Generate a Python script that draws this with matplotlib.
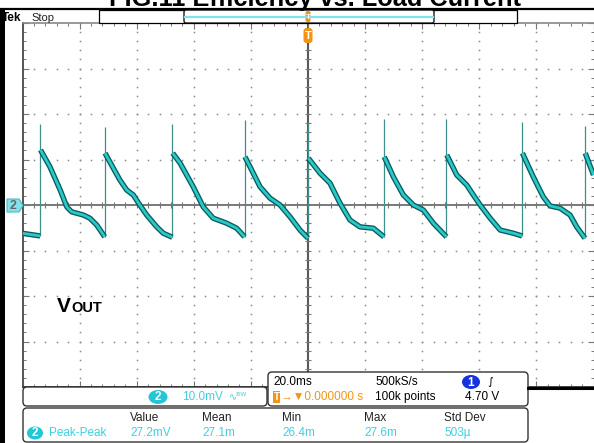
import numpy as np
import matplotlib
matplotlib.use("Agg")
import matplotlib.pyplot as plt
import matplotlib.patheffects as pe
from matplotlib.patches import FancyBboxPatch, Rectangle, Ellipse, Polygon
from matplotlib.ticker import MultipleLocator

# -----------------------
# 1. Scope trace (time in ms, voltage in mV, ch2 AC coupled)
# -----------------------
seg_t = [
    [-100.2, -97.0, -93.8],
    [-93.7, -90.4, -86.8, -84.5, -82.8, -78.7, -76.4, -74.0, -71.2],
    [-71.1, -68.2, -65.9, -63.5, -61.2, -58.9, -56.5, -53.0, -50.7, -47.5],
    [-47.4, -44.8, -40.2, -36.7, -33.2, -28.5, -25.0, -22.2],
    [-22.1, -20.3, -16.8, -13.3, -9.8, -6.3, -2.8, 0.0],
    [0.1, 4.2, 7.7, 11.2, 14.7, 18.2, 22.9, 26.6],
    [26.7, 29.9, 33.4, 36.9, 40.4, 43.9, 48.5],
    [48.6, 52.1, 55.6, 57.9, 60.3, 63.8, 67.3, 71.9, 75.0],
    [75.1, 78.9, 82.4, 84.8, 88.3, 91.8, 94.1, 97.0],
    [97.1, 100.0],
]
seg_v = [
    [-6.2, -6.5, -6.8],
    [12.1, 8.4, 3.3, -0.4, -1.5, -2.2, -2.9, -4.4, -7.0],
    [11.4, 8.1, 5.5, 3.3, 2.2, 0.0, -2.2, -4.8, -6.2, -7.1],
    [11.4, 9.2, 4.0, -0.4, -2.9, -4.0, -5.1, -7.0],
    [10.6, 8.4, 4.0, 1.5, 0.0, -2.6, -5.5, -7.3],
    [10.3, 7.0, 4.8, 0.4, -3.3, -4.8, -5.1, -7.0],
    [10.6, 6.2, 2.2, 0.0, -1.1, -4.0, -7.0],
    [11.0, 6.6, 4.4, 2.2, 0.0, -2.9, -5.5, -6.2, -6.8],
    [11.4, 6.2, 1.8, -0.2, -0.7, -2.2, -4.8, -7.3],
    [11.4, 6.6],
]
spike_t = [-93.8, -71.2, -47.5, -22.2, 0.0, 26.6, 48.5, 75.0, 97.0]
spike_top = [17.8, 17.1, 17.8, 18.7, 18.0, 18.9, 18.9, 18.2, 17.4]

# readouts
meas_heads = ["Value", "Mean", "Min", "Max", "Std Dev"]
meas_vals = ["27.2mV", "27.1m", "26.4m", "27.6m", "503\u00b5"]

CYAN = "#27c9c9"
TXT_CYAN = "#3fcfe0"
ORANGE = "#f39512"
SANS = "Liberation Sans"
FS = 8.5

fig = plt.figure(figsize=(5.94, 4.43), dpi=100)
W, H = 594, 443

# -----------------------
# 2. Graticule axes
# -----------------------
x0, x1, y0, y1 = 22.5, 593.5, 23, 387
ax = fig.add_axes([x0 / W, 1 - y1 / H, (x1 - x0) / W, (y1 - y0) / H])
ax.set_xlim(-100, 100)
ax.set_ylim(-40, 40)
ax.xaxis.set_major_locator(MultipleLocator(20))
ax.xaxis.set_minor_locator(MultipleLocator(4))
ax.yaxis.set_major_locator(MultipleLocator(10))
ax.yaxis.set_minor_locator(MultipleLocator(2))
ax.tick_params(which="both", direction="in", top=True, right=True,
               labelbottom=False, labelleft=False, color="#777")
ax.tick_params(which="major", length=4, width=0.8)
ax.tick_params(which="minor", length=2.5, width=0.7)
ax.spines["left"].set_color("#555")
ax.spines["left"].set_linewidth(1.4)
ax.spines["top"].set_color("#888")
ax.spines["top"].set_linewidth(1.2)
ax.spines["bottom"].set_color("#444")
ax.spines["bottom"].set_linewidth(1.4)
ax.spines["right"].set_color("#999")

xm = np.arange(-100, 101, 4)
ym = np.arange(-40, 41, 2)
for gx in range(-80, 81, 20):
    if gx != 0:
        ax.plot(np.full(ym.size, gx), ym, ls="none", marker="s", ms=1.1,
                mew=0, color="#8a8a8a", zorder=1)
for gy in range(-30, 31, 10):
    if gy != 0:
        ax.plot(xm, np.full(xm.size, gy), ls="none", marker="s", ms=1.1,
                mew=0, color="#8a8a8a", zorder=1)
ax.axhline(0, color="#6e6e6e", lw=1.3, zorder=1)
ax.axvline(0, color="#5a5a5a", lw=1.5, zorder=1)
ax.plot(xm, np.zeros(xm.size), ls="none", marker="|", ms=5, mew=0.8,
        color="#777", zorder=1)
ax.plot(np.zeros(ym.size), ym, ls="none", marker="_", ms=5, mew=0.8,
        color="#777", zorder=1)

# waveform
bottoms = [s[-1] for s in seg_v[:len(spike_t)]]
ax.vlines(spike_t, bottoms, spike_top, color="#3e8f8a", lw=0.9, zorder=3)
for t, v in zip(seg_t, seg_v):
    ax.plot(t, v, color=CYAN, lw=2.0, solid_capstyle="butt", zorder=4,
            path_effects=[pe.Stroke(linewidth=3.9, foreground="#0d5a5a"),
                          pe.Normal()])

# -----------------------
# 3. Screen furniture in pixel coords
# -----------------------
ov = fig.add_axes([0, 0, 1, 1], zorder=5)
ov.set_xlim(0, W)
ov.set_ylim(H, 0)
ov.axis("off")


def rbox(x, y, w, h, r=4, fc="white", ec="#333", lw=1.0):
    ov.add_patch(FancyBboxPatch((x, y), w, h, boxstyle=f"round,pad=0,rounding_size={r}",
                                fc=fc, ec=ec, lw=lw))


def pill(cx, cy, w, h, fc, label, tc="white"):
    ov.add_patch(Ellipse((cx, cy), w, h, fc=fc, ec="none"))
    ov.text(cx, cy + 0.5, label, ha="center", va="center", color=tc,
            fontsize=FS, family=SANS, weight="bold")


# title (cut off at the top edge, as in the screenshot)
ov.text(315, 6, "FIG.11 Efficiency vs. Load Current", ha="center",
        va="baseline", fontsize=18.3, weight="bold", family=SANS)
ov.plot([0, W], [8.5, 8.5], color="black", lw=1.6)
ov.add_patch(Rectangle((0, 10), 5, H - 10, fc="black", ec="none"))

ov.text(2, 21, "Tek", fontsize=8.5, weight="bold", family=SANS, va="baseline")
ov.text(31, 21, "Stop", fontsize=8, family=SANS, va="baseline", color="#222")

# record view
ov.add_patch(Rectangle((99, 10), 418, 13, fc="white", ec="black", lw=0.9))
rbox(184, 10, 250, 13, r=2, ec="black", lw=0.9)
ov.plot([185, 433], [16.5, 16.5], color="#7fe3ee", lw=1.6)
ov.add_patch(FancyBboxPatch((305.5, 11), 5, 11, boxstyle="round,pad=0,rounding_size=2",
                            fc=ORANGE, ec="none"))
ov.text(308, 17, "T", ha="center", va="center", color="white", fontsize=6,
        weight="bold", family=SANS)
ov.add_patch(FancyBboxPatch((303.5, 28), 9, 15, boxstyle="round,pad=0,rounding_size=3",
                            fc=ORANGE, ec="none"))
ov.text(308, 36, "T", ha="center", va="center", color="white", fontsize=8,
        weight="bold", family=SANS)

# channel 2 ground marker
ov.add_patch(Polygon([(7, 199), (19, 199), (23, 205.5), (19, 212), (7, 212)],
                     closed=True, fc="#86e2ea", ec="#46b9c6", lw=0.8))
ov.text(13, 206, "2", ha="center", va="center", color="#666", fontsize=9,
        weight="bold", family=SANS)

# V_OUT label
ov.text(57, 312, "V", fontsize=15, weight="bold", family=SANS, va="baseline")
ov.text(71.5, 312, "OUT", fontsize=10.5, weight="bold", family=SANS,
        va="baseline")

# bottom readout panels
ov.plot([528, W], [388, 388], color="black", lw=2.2)
rbox(23, 387, 244, 19)
rbox(268, 372, 260, 34)
rbox(23, 408, 505, 34)

pill(158, 397, 19, 14, "#22c6d6", "2")
ov.text(182, 397, "10.0mV", color=TXT_CYAN, fontsize=FS, family=SANS, va="center")
ov.text(229, 396, "\u223f\u1d2e\u1d42", color=TXT_CYAN, fontsize=7,
        family="DejaVu Sans", va="center")

ov.text(273, 382, "20.0ms", fontsize=FS, family=SANS, va="center")
ov.text(375, 382, "500kS/s", fontsize=FS, family=SANS, va="center")
pill(471, 382, 18, 14, "#1533e0", "1")
ov.text(487, 382, "\u222b", fontsize=8, family="DejaVu Sans", va="center")

ov.add_patch(Rectangle((273, 391), 7, 12, fc=ORANGE, ec="none"))
ov.text(276.5, 397.5, "T", ha="center", va="center", color="white", fontsize=7,
        weight="bold", family=SANS)
ov.text(281, 397, "\u2192\u25bc0.000000 s", color=ORANGE, fontsize=FS,
        family=["Liberation Sans", "DejaVu Sans"], va="center")
ov.text(375, 397, "100k points", fontsize=FS, family=SANS, va="center")
ov.text(465, 397, "4.70 V", fontsize=FS, family=SANS, va="center")

col_x = [130, 202, 282, 364, 444]
for cx, head, val in zip(col_x, meas_heads, meas_vals):
    ov.text(cx, 418, head, fontsize=FS, family=SANS, va="center", color="#222")
    ov.text(cx, 433, val, fontsize=FS, family=SANS, va="center", color=TXT_CYAN)
pill(35, 433, 16, 13, "#22c6d6", "2")
ov.text(49, 433, "Peak-Peak", fontsize=FS, family=SANS, va="center",
        color=TXT_CYAN)

plt.savefig("out.png", dpi=100)
